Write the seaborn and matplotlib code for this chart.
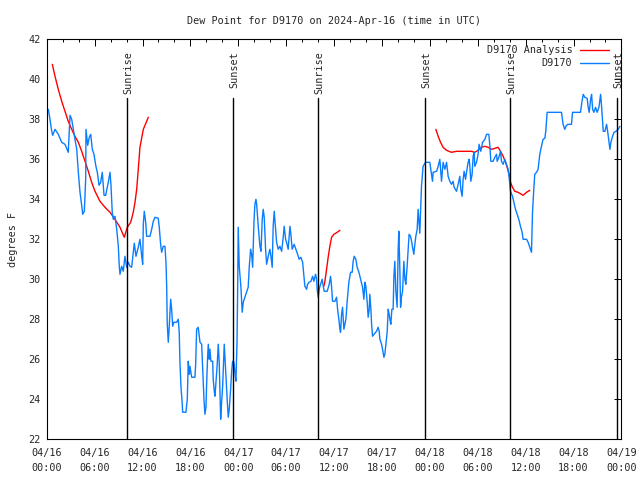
import numpy as np
import pandas as pd
import seaborn as sns
import matplotlib
matplotlib.use('Agg')
import matplotlib.pyplot as plt

# hours since 2024-04-16 00:00 UTC and dew point (F)
obs_hours = [0.0, 0.2, 0.41, 0.63, 0.75, 1.04, 1.45, 1.88, 2.29, 2.7, 2.92, 3.13, 3.33, 3.54, 3.76,
             3.96, 4.17, 4.38, 4.51, 4.71, 4.88, 4.92, 5.13, 5.33, 5.51, 5.71, 5.92, 6.14, 6.34, 6.55,
             6.76, 6.96, 7.18, 7.39, 7.71, 7.93, 8.05, 8.21, 8.34, 8.55, 8.77, 8.97, 9.09, 9.18, 9.39,
             9.59, 9.8, 10.02, 10.22, 10.43, 10.64, 10.84, 10.97, 11.18, 11.47, 11.68, 11.9, 12.02,
             12.1, 12.22, 12.4, 12.52, 12.94, 13.15, 13.35, 13.56, 13.97, 14.1, 14.27, 14.4, 14.6,
             14.81, 14.94, 15.03, 15.1, 15.23, 15.35, 15.53, 15.65, 15.78, 15.94, 16.28, 16.48, 16.6,
             16.69, 16.82, 16.98, 17.03, 17.44, 17.61, 17.73, 17.86, 17.94, 18.16, 18.57, 18.66, 18.78,
             18.98, 19.2, 19.41, 19.61, 19.7, 19.82, 19.95, 20.04, 20.16, 20.24, 20.36, 20.45, 20.57,
             20.79, 20.86, 20.99, 21.08, 21.2, 21.36, 21.49, 21.61, 21.7, 21.79, 21.91, 22.04, 22.24,
             22.45, 22.62, 22.74, 22.87, 23.04, 23.17, 23.29, 23.45, 23.62, 23.7, 23.84, 23.92, 23.99,
             24.12, 24.33, 24.49, 24.62, 24.83, 25.04, 25.24, 25.37, 25.54, 25.67, 25.8, 25.96, 26.08,
             26.21, 26.3, 26.5, 26.71, 26.84, 27.0, 27.12, 27.25, 27.42, 27.55, 27.75, 27.96, 28.09,
             28.25, 28.37, 28.5, 28.68, 28.8, 29.0, 29.21, 29.43, 29.63, 29.75, 29.93, 30.05, 30.25,
             30.47, 30.59, 30.75, 31.0, 31.22, 31.43, 31.63, 31.84, 32.06, 32.22, 32.34, 32.56, 32.68,
             32.88, 33.1, 33.31, 33.47, 33.68, 33.81, 33.88, 34.01, 34.13, 34.31, 34.51, 34.64, 34.76,
             35.14, 35.39, 35.56, 35.69, 35.81, 36.1, 36.31, 36.44, 36.6, 36.73, 36.81, 36.94, 37.06,
             37.23, 37.35, 37.48, 37.64, 37.85, 38.07, 38.27, 38.39, 38.52, 38.73, 38.89, 39.11, 39.32,
             39.57, 39.73, 39.86, 39.98, 40.15, 40.27, 40.4, 40.48, 40.61, 40.7, 40.82, 41.02, 41.32,
             41.52, 41.65, 41.74, 41.95, 42.07, 42.24, 42.36, 42.49, 42.65, 42.78, 42.9, 42.99, 43.11,
             43.24, 43.4, 43.49, 43.61, 43.74, 43.9, 44.03, 44.11, 44.24, 44.33, 44.45, 44.58, 44.74,
             44.87, 44.99, 45.15, 45.28, 45.4, 45.58, 45.71, 45.83, 45.99, 46.12, 46.24, 46.41, 46.53,
             46.74, 46.95, 47.15, 47.46, 47.99, 48.21, 48.33, 48.41, 48.84, 49.04, 49.25, 49.46, 49.66,
             49.88, 50.09, 50.29, 50.5, 50.71, 50.91, 51.04, 51.34, 51.54, 51.75, 51.88, 52.04, 52.17,
             52.29, 52.47, 52.59, 52.79, 52.92, 53.01, 53.13, 53.29, 53.42, 53.54, 53.63, 53.84, 54.04,
             54.17, 54.38, 54.6, 54.89, 55.1, 55.39, 55.52, 55.64, 55.92, 56.14, 56.35, 56.43, 56.64,
             56.85, 56.97, 57.18, 57.39, 57.6, 57.8, 57.93, 58.1, 58.35, 58.52, 58.73, 58.93, 59.14,
             59.35, 59.56, 59.68, 60.11, 60.31, 60.52, 60.73, 60.86, 61.02, 61.14, 61.36, 61.56, 61.77,
             61.98, 62.18, 62.4, 62.52, 62.69, 63.44, 64.49, 64.69, 64.9, 65.11, 65.31, 65.74, 65.87,
             66.87, 67.04, 67.21, 67.42, 67.71, 67.83, 67.96, 68.14, 68.26, 68.39, 68.55, 68.76, 68.96,
             69.18, 69.39, 69.51, 69.64, 69.72, 69.93, 70.14, 70.27, 70.43, 70.56, 70.68, 70.85, 71.06,
             71.31, 71.6, 71.81]
obs_dewpt = [38.25, 38.5, 38.0, 37.4, 37.2, 37.5, 37.25, 36.85, 36.75, 36.35, 38.2, 38.0, 37.5, 37.0, 36.5,
             35.35, 34.35, 33.7, 33.25, 33.4, 35.0, 37.5, 36.7, 37.1, 37.25, 36.5, 36.25, 35.7, 35.35, 34.7,
             34.85, 35.35, 34.2, 34.2, 34.85, 35.35, 34.7, 33.35, 33.0, 33.15, 32.5, 31.65, 30.65, 30.25, 30.65,
             30.4, 31.15, 30.6, 30.85, 30.65, 30.6, 31.35, 31.8, 31.15, 31.6, 32.0, 31.15, 30.75,
             32.75, 33.4, 32.85, 32.15, 32.15, 32.5, 32.9, 33.1, 33.05, 32.6, 31.75, 31.35, 31.65,
             31.65, 30.85, 29.6, 27.75, 26.85, 27.65, 29.0, 28.5, 27.65, 27.85, 27.85, 28.0, 27.35,
             25.85, 24.6, 23.75, 23.35, 23.35, 24.0, 25.9, 25.25, 25.65, 25.1, 25.1, 25.75, 27.5,
             27.6, 26.85, 26.75, 24.9, 24.0, 23.25, 23.6, 24.85, 26.15, 26.75, 26.0, 26.5, 25.9,
             25.9, 25.0, 24.4, 24.15, 24.85, 25.75, 26.75, 25.85, 24.5, 23.0, 23.85, 24.65, 26.75,
             25.15, 23.9, 23.1, 23.5, 24.5, 25.4, 25.9, 25.85, 25.15, 24.9, 26.85, 29.5, 32.6,
             30.65, 29.6, 28.35, 28.85, 29.1, 29.35, 29.6, 30.6, 31.5, 31.25, 30.6, 32.85, 33.75,
             34.0, 33.75, 32.65, 31.65, 31.4, 33.0, 33.5, 33.1, 31.5, 30.75, 31.15, 31.5, 31.15,
             30.6, 32.65, 33.4, 32.5, 31.85, 31.5, 31.65, 31.4, 32.1, 32.65, 32.0, 31.85, 31.5,
             32.65, 32.25, 31.5, 31.75, 31.5, 31.25, 31.0, 31.1, 30.85, 30.15, 29.65, 29.5, 29.75,
             29.85, 29.9, 30.15, 29.9, 30.25, 30.0, 29.5, 29.1, 29.5, 29.75, 30.0, 29.65, 29.4,
             29.4, 29.75, 30.15, 29.6, 28.9, 28.9, 29.1, 28.5, 28.0, 27.5, 27.35, 28.25, 28.6,
             27.5, 27.75, 28.0, 28.9, 29.85, 30.35, 30.35, 30.9, 31.15, 31.0, 30.6, 30.35, 30.0,
             29.6, 29.0, 29.85, 29.65, 28.85, 28.1, 28.5, 29.25, 28.5, 27.75, 27.15, 27.25, 27.4,
             27.6, 27.4, 27.0, 26.75, 26.5, 26.1, 26.25, 26.75, 27.35, 28.5, 28.25, 28.0, 27.75,
             28.5, 28.5, 30.1, 30.9, 29.4, 28.6, 31.5, 32.4, 30.5, 28.6, 29.15, 29.4, 30.9,
             30.0, 29.75, 30.65, 31.5, 32.25, 32.15, 31.9, 31.6, 31.25, 31.75, 32.15, 32.5, 33.5,
             32.3, 34.65, 35.65, 35.85, 35.85, 35.25, 34.9, 35.35, 35.4, 35.65, 36.0, 34.9, 35.85,
             35.5, 35.85, 35.15, 34.9, 34.75, 34.9, 34.6, 34.4, 34.75, 35.15, 34.5, 34.15, 35.0,
             35.4, 35.0, 35.35, 35.85, 36.0, 35.65, 34.9, 35.25, 36.15, 36.35, 35.65, 35.85, 36.25,
             36.75, 36.4, 36.85, 37.0, 37.25, 37.25, 36.65, 35.9, 35.9, 36.1, 36.25, 35.9, 36.1,
             36.4, 35.9, 35.75, 36.0, 35.75, 35.5, 35.1, 34.4, 34.15, 33.85, 33.5, 33.25, 33.0,
             32.65, 32.35, 32.0, 32.0, 31.85, 31.6, 31.35, 33.35, 34.5, 35.25, 35.35, 35.5, 36.25,
             36.65, 37.0, 37.05, 37.4, 38.35, 38.35, 38.35, 37.75, 37.5, 37.7, 37.75, 37.75, 38.35,
             38.35, 38.85, 39.25, 39.1, 39.05, 38.6, 38.35, 39.0, 39.25, 38.5, 38.35, 38.6, 38.35,
             38.6, 39.25, 38.65, 37.9, 37.4, 37.4, 37.75, 37.4, 36.9, 36.5, 36.85, 37.1, 37.35,
             37.4, 37.5, 37.65]

# analysis runs (three separate pieces)
ana_hours = [[0.7, 1.04, 1.45, 1.88, 2.29, 2.7, 3.13, 3.54, 3.96, 4.38, 4.8, 5.21, 5.63, 6.05, 6.67,
              7.3, 7.93, 8.55, 9.18, 9.72, 10.09, 10.52, 10.84, 11.06, 11.27, 11.47, 11.68, 12.1,
              12.52, 12.72],
             [34.72, 34.85, 35.06, 35.26, 35.47, 35.69, 35.98, 36.39, 36.73],
             [48.75, 49.04, 49.34, 49.66, 50.09, 50.71, 51.34, 51.97, 53.22, 53.63, 54.04, 54.47,
              54.89, 55.3, 55.72, 56.14, 56.55, 56.85, 57.18, 57.48, 57.68, 57.93, 58.1, 58.35,
              58.64, 59.05, 59.68, 60.11, 60.52]]
ana_dewpt = [[40.75, 40.15, 39.5, 38.9, 38.4, 37.9, 37.5, 37.15, 36.85, 36.4, 35.9, 35.4, 34.85, 34.4,
              33.9, 33.6, 33.35, 33.0, 32.6, 32.1, 32.6, 32.85, 33.35, 33.85, 34.5, 35.5, 36.6,
              37.5, 37.9, 38.1],
             [29.65, 29.9, 30.5, 31.1, 31.65, 32.1, 32.25, 32.35, 32.45],
             [37.5, 37.15, 36.85, 36.6, 36.45, 36.35, 36.4, 36.4, 36.4, 36.35, 36.45, 36.6,
              36.65, 36.6, 36.5, 36.55, 36.6, 36.4, 36.15, 35.85, 35.6, 35.25, 34.85, 34.6,
              34.4, 34.35, 34.2, 34.35, 34.45]]

sun_hours = [10.08, 23.37, 34.02, 47.43, 58.06, 71.45]
sun_labels = ['Sunrise', 'Sunset', 'Sunrise', 'Sunset', 'Sunrise', 'Sunset']

tick_hours = list(range(0, 73, 6))
tick_labels = ['04/16\n00:00', '04/16\n06:00', '04/16\n12:00', '04/16\n18:00',
               '04/17\n00:00', '04/17\n06:00', '04/17\n12:00', '04/17\n18:00',
               '04/18\n00:00', '04/18\n06:00', '04/18\n12:00', '04/18\n18:00',
               '04/19\n00:00']

sns.set_style('white')
plt.rcParams['font.family'] = ['DejaVu Sans Mono']
plt.rcParams['font.size'] = 7.3

fig = plt.figure(figsize=(6.4, 4.8), dpi=100)
ax = fig.add_axes([0.073, 0.085, 0.898, 0.833])

obs_df = pd.DataFrame({'hour': obs_hours, 'dewpt': obs_dewpt})
ana_df = pd.concat([pd.DataFrame({'hour': h, 'dewpt': d, 'run': i})
                    for i, (h, d) in enumerate(zip(ana_hours, ana_dewpt))])

# analysis first so the legend order matches
for i, run in ana_df.groupby('run'):
    sns.lineplot(data=run, x='hour', y='dewpt', color='#ff0000', lw=1.0, ax=ax,
                 label='D9170 Analysis' if i == 0 else None, estimator=None, sort=False)
sns.lineplot(data=obs_df, x='hour', y='dewpt', color='#0a7dff', lw=1.0, ax=ax,
             label='D9170', estimator=None, sort=False)

# sunrise / sunset markers
for h, lab in zip(sun_hours, sun_labels):
    ax.plot([h, h], [22, 39.05], color='black', lw=1.0)
    ax.text(h + 0.15, 41.4, lab, rotation=90, ha='center', va='top')

ax.set_xlim(0, 72)
ax.set_ylim(22, 42)
ax.set_xticks(tick_hours)
ax.set_xticklabels(tick_labels, linespacing=1.6)
ax.set_xticks(range(0, 73, 2), minor=True)
ax.set_yticks(range(22, 43, 2))
ax.tick_params(axis='both', which='major', direction='in', length=5, width=0.7,
               top=True, right=True, color='black')
ax.tick_params(axis='x', which='minor', direction='in', length=2.5, width=0.7,
               top=True, color='black')
ax.tick_params(axis='x', which='major', pad=6.5)
ax.tick_params(axis='y', which='major', pad=4.5)
for sp in ax.spines.values():
    sp.set_color('black')
    sp.set_linewidth(0.8)

ax.set_xlabel('')
ax.set_ylabel('degrees F', labelpad=7)
ax.set_title('Dew Point for D9170 on 2024-Apr-16 (time in UTC)', pad=11, fontsize=7.3)

ax.legend(loc='upper right', bbox_to_anchor=(0.978, 0.985), frameon=False, markerfirst=False,
          handlelength=2.8, handletextpad=0.8, labelspacing=0.3, borderpad=0, borderaxespad=0)

fig.savefig('out.png', dpi=100)
